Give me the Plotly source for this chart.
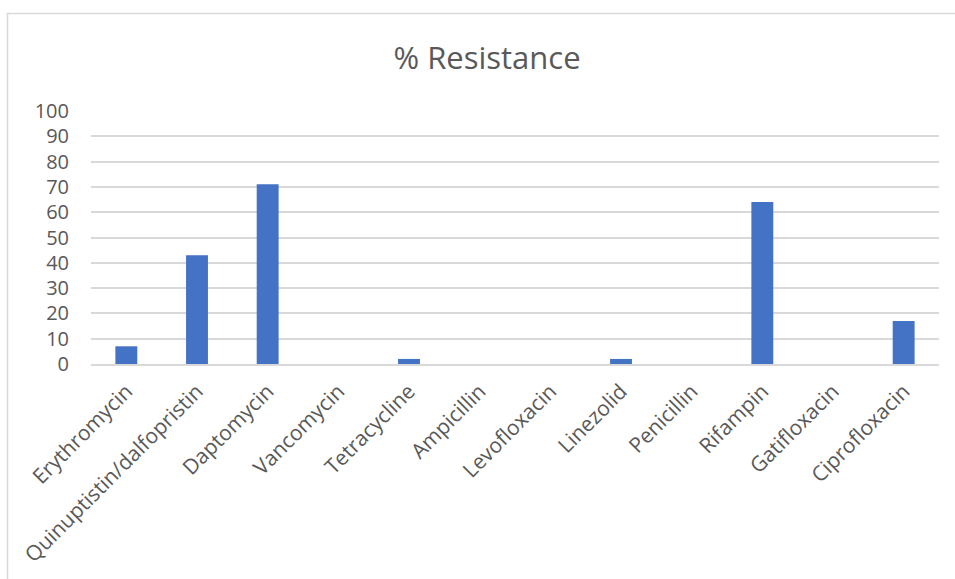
import plotly.graph_objects as go

categories = ["Erythromycin", "Quinuptistin/dalfopristin", "Daptomycin", "Vancomycin",
              "Tetracycline", "Ampicillin", "Levofloxacin", "Linezolid", "Penicillin",
              "Rifampin", "Gatifloxacin", "Ciprofloxacin"]
resistance = [7, 43, 71, 0, 2, 0, 0, 2, 0, 64, 0, 17]
y_ticks = list(range(0, 101, 10))

FONT = "Open Sans"
fig = go.Figure(go.Bar(x=categories, y=resistance, marker_color="#4472C4",
                       marker_line_width=0))

fig.update_layout(
    width=955, height=579,
    margin=dict(l=91, r=16, t=111, b=215),
    paper_bgcolor="white", plot_bgcolor="white",
    bargap=0.69,
    showlegend=False,
    title=dict(text="% Resistance", x=0.51, xanchor="center", y=0.9, yanchor="middle",
               font=dict(family=FONT, size=31, color="#595959")),
    font=dict(family=FONT, color="#595959"),
)
fig.update_xaxes(tickangle=-45, tickfont=dict(size=21, color="#595959"),
                 showgrid=False, showline=True, linecolor="#d9d9d9", linewidth=1.5,
                 ticks="", ticklabelstandoff=5)
fig.update_yaxes(range=[0, 100], tickvals=y_ticks, tickfont=dict(size=20, color="#595959"),
                 showgrid=True, gridcolor="#d9d9d9", gridwidth=1.5,
                 zeroline=False, showline=False, ticks="", ticklabelstandoff=21)

# chart border (Excel chart area outline, cropped at right/bottom)
fig.add_shape(type="rect", xref="paper", yref="paper",
              x0=(7.5 - 91) / 848, x1=1.2, y0=-1.0, y1=(364 - 13.5) / 253,
              line=dict(color="#d9d9d9", width=1.5), fillcolor="rgba(0,0,0,0)", layer="below")

fig.write_html("out.html")
